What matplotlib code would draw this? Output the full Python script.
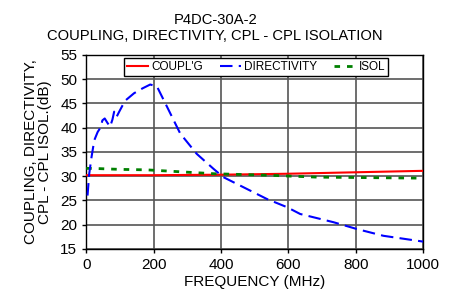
import matplotlib.pyplot as plt

plt.rcParams['font.family'] = ['Liberation Sans', 'DejaVu Sans']

# coupling
f_cpl = [0, 200, 400, 600, 800, 1000]
cpl = [30.2, 30.2, 30.3, 30.5, 30.8, 31.1]

# directivity
f_dir = [4, 9, 16, 24, 34, 44, 48, 55, 63, 71, 78, 83, 90, 98, 108, 118, 142, 167,
         190, 210, 240, 279, 328, 378, 407, 427, 536, 596, 635, 734, 803, 882, 1000]
dirv = [26.0, 30.5, 34.0, 37.4, 39.1, 40.2, 41.5, 41.9, 41.0, 40.2, 41.7, 43.3, 42.2, 43.3,
        44.6, 45.7, 47.1, 48.1, 48.9, 48.5, 44.3, 38.8, 34.6, 31.5, 29.8, 29.1, 25.3, 23.6,
        22.2, 20.5, 19.1, 17.7, 16.5]

# isolation
f_iso = [0, 20, 60, 100, 180, 280, 380, 536, 684, 980]
iso = [31.6, 31.6, 31.5, 31.4, 31.3, 30.9, 30.5, 30.2, 29.8, 29.6]

fig = plt.figure(figsize=(4.56, 2.97), dpi=100)
ax = fig.add_axes([0.189, 0.162, 0.739, 0.653])

ax.plot(f_cpl, cpl, color='red', lw=1.5, label="COUPL'G", zorder=3)
ax.plot(f_dir, dirv, color='blue', lw=1.5, dashes=(6, 3), label='DIRECTIVITY', zorder=4)
ax.plot(f_iso, iso, color='green', lw=2, dashes=(2, 2.5), label='ISOL', zorder=3)

ax.set_xlim(0, 1000)
ax.set_ylim(15, 55)
ax.set_xticks(range(0, 1001, 200))
ax.set_yticks(range(15, 56, 5))
ax.grid(True, color='#555555', lw=1.2)
ax.set_axisbelow(True)
ax.tick_params(labelsize=11, length=3, width=1, direction='out')
for s in ax.spines.values():
    s.set_linewidth(1)

ax.set_xlabel('FREQUENCY (MHz)', fontsize=11, labelpad=2)
ax.set_ylabel('COUPLING, DIRECTIVITY,\nCPL - CPL ISOL.(dB)', fontsize=11, labelpad=6,
              linespacing=1.0)
fig.text(0.472, 0.955, 'P4DC-30A-2\nCOUPLING, DIRECTIVITY, CPL - CPL ISOLATION',
         fontsize=10.6, linespacing=1.15, ha='center', va='top', multialignment='center')

leg = ax.legend(loc='upper center', ncol=3, fontsize=8.5, frameon=True, fancybox=False,
                edgecolor='black', framealpha=1, borderpad=0.25, handlelength=1.8,
                columnspacing=1.4, handletextpad=0.3, borderaxespad=0,
                bbox_to_anchor=(0.504, 0.985))
leg.get_frame().set_linewidth(1)

fig.savefig('out.png', dpi=100)
